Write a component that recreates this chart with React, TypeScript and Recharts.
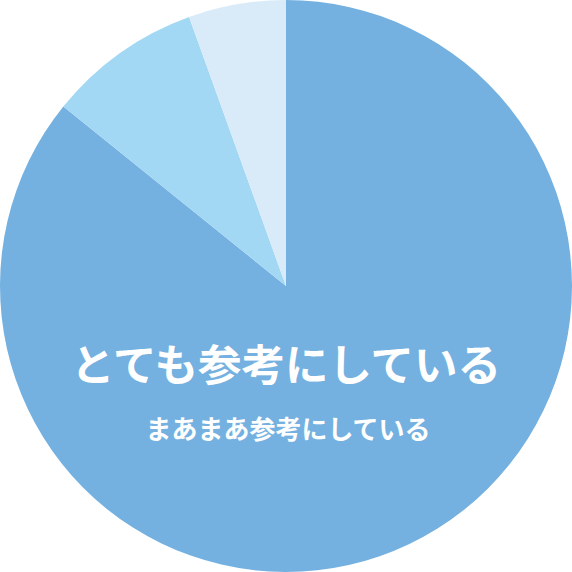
import { Pie, PieChart, Cell } from "recharts";

const categories = ["とても参考にしている", "まあまあ参考にしている", "あまり参考にしていない"];
const shares = [85.8, 8.7, 5.5];
const colors = ["#74b1e0", "#a3d8f4", "#d9ebf8"];

const data = categories.map((name, i) => ({ name, value: shares[i] }));

// labels sit on top of the big slice, drawn in an overlay svg
const CenterLabels = () => (
  <svg
    width={572}
    height={572}
    style={{ position: "absolute", left: 0, top: 0, pointerEvents: "none" }}
  >
    <g fontFamily="'Noto Sans CJK JP', 'Noto Sans', sans-serif" fill="#ffffff" textAnchor="middle">
      <text x={286} y={362} fontSize={43.5} fontWeight={700} dominantBaseline="central">
        {categories[0]}
      </text>
      <text x={288} y={427} fontSize={26} fontWeight={700} dominantBaseline="central">
        {categories[1]}
      </text>
    </g>
  </svg>
);

export default function App() {
  return (
    <div style={{ position: "absolute", left: 0, top: 0, width: 572, height: 572, background: "#fff" }}>
      <PieChart width={572} height={572} margin={{ top: 0, right: 0, bottom: 0, left: 0 }}>
        <Pie
          data={data}
          dataKey="value"
          nameKey="name"
          cx={286}
          cy={286}
          outerRadius={286}
          innerRadius={0}
          startAngle={90}
          endAngle={-270}
          stroke="none"
          isAnimationActive={false}
        >
          {data.map((d, i) => (
            <Cell key={d.name} fill={colors[i]} />
          ))}
        </Pie>
      </PieChart>
      <CenterLabels />
    </div>
  );
}
